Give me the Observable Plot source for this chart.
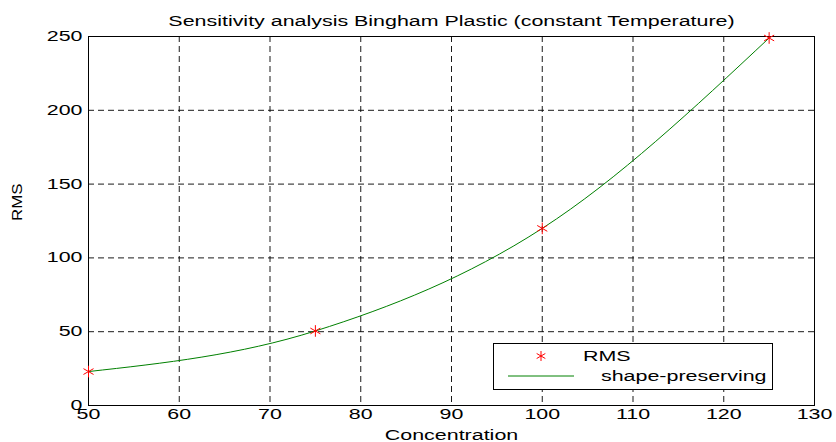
<!DOCTYPE html>
<html>
<head>
<meta charset="utf-8">
<script src="https://cdn.jsdelivr.net/npm/d3@7"></script>
<script src="https://cdn.jsdelivr.net/npm/@observablehq/plot@0.6"></script>
<style>
  body { margin: 0; background: #fff; }
  #wrap { position: relative; width: 836px; height: 442px; font-family: "Liberation Sans", Arial, sans-serif; }
  #legend { position: absolute; left: 493px; top: 343px; width: 278px; height: 45px; border: 1px solid #000; background: #fff; }
  #legend svg { position: absolute; left: 0; top: 0; }
</style>
</head>
<body>
<div id="wrap"></div>
<script>
const title = "Sensitivity analysis Bingham Plastic (constant Temperature)";
const xLabel = "Concentration";
const yLabel = "RMS";
const concentration = [50, 75, 100, 125];
const rms = [23, 50.5, 120, 249];
const xTicks = [50, 60, 70, 80, 90, 100, 110, 120, 130];
const yTicks = [0, 50, 100, 150, 200, 250];
const seriesNames = ["RMS", "shape-preserving"];

const data = concentration.map((c, i) => ({c, v: rms[i]}));

const chart = Plot.plot({
  width: 836,
  height: 442,
  marginLeft: 88,
  marginRight: 22,
  marginTop: 36,
  marginBottom: 37,
  style: {fontFamily: "Liberation Sans, Arial, sans-serif", fontSize: "14px", background: "#fff", color: "#000", overflow: "visible"},
  x: {domain: [50, 130]},
  y: {domain: [0, 250]},
  marks: [
    Plot.gridX(xTicks, {stroke: "#000", strokeOpacity: 0.9, strokeDasharray: "6,4", strokeWidth: 1}),
    Plot.gridY(yTicks, {stroke: "#000", strokeOpacity: 0.9, strokeDasharray: "6,4", strokeWidth: 1}),
    Plot.axisX(xTicks, {anchor: "bottom", tickSize: 0, tickPadding: 4, label: null, fontSize: 14}),
    Plot.axisY(yTicks, {anchor: "left", tickSize: 0, tickPadding: 6, label: null, fontSize: 14}),
    Plot.frame({stroke: "#000", strokeWidth: 1}),
    Plot.line(data, {x: "c", y: "v", curve: "monotone-x", stroke: "#008000", strokeWidth: 1}),
    Plot.dot(data, {x: "c", y: "v", symbol: "asterisk", r: 5.5, stroke: "#ff0000", strokeWidth: 1}),
    Plot.text([title], {frameAnchor: "top", dy: -15, fontSize: 14, lineAnchor: "middle"}),
    Plot.text([xLabel], {frameAnchor: "bottom", dy: 30, fontSize: 14, lineAnchor: "middle"}),
    Plot.text([yLabel], {frameAnchor: "left", dx: -71, rotate: -90, fontSize: 14, lineAnchor: "middle", className: "ylab"})
  ]
});

const wrap = document.getElementById("wrap");
wrap.appendChild(chart);

// legend
const legend = document.createElement("div");
legend.id = "legend";
const svg = d3.create("svg").attr("width", 278).attr("height", 45)
  .style("font-family", "Liberation Sans, Arial, sans-serif").style("font-size", "14px");
const sym = d3.symbol(d3.symbolAsterisk, 70)();
svg.append("path").attr("d", sym).attr("transform", "translate(47,12)").attr("stroke", "#ff0000").attr("fill", "none");
svg.append("text").attr("x", 89).attr("y", 12).attr("dy", "0.35em").text(seriesNames[0]);
svg.append("line").attr("x1", 14).attr("x2", 80).attr("y1", 32).attr("y2", 32).attr("stroke", "#008000");
svg.append("text").attr("x", 107).attr("y", 32).attr("dy", "0.35em").text(seriesNames[1]);
legend.appendChild(svg.node());
wrap.appendChild(legend);

// widen glyphs to mimic the reference's stretched font
function stretch(el, f) {
  const w = el.getComputedTextLength();
  if (w > 0) {
    el.setAttribute("textLength", (w * f).toFixed(1));
    el.setAttribute("lengthAdjust", "spacingAndGlyphs");
  }
}
chart.querySelectorAll("text").forEach(t => {
  const isY = t.closest(".ylab");
  stretch(t, isY ? 1.2 : 1.53);
});
legend.querySelectorAll("text").forEach(t => stretch(t, 1.53));
</script>
</body>
</html>
